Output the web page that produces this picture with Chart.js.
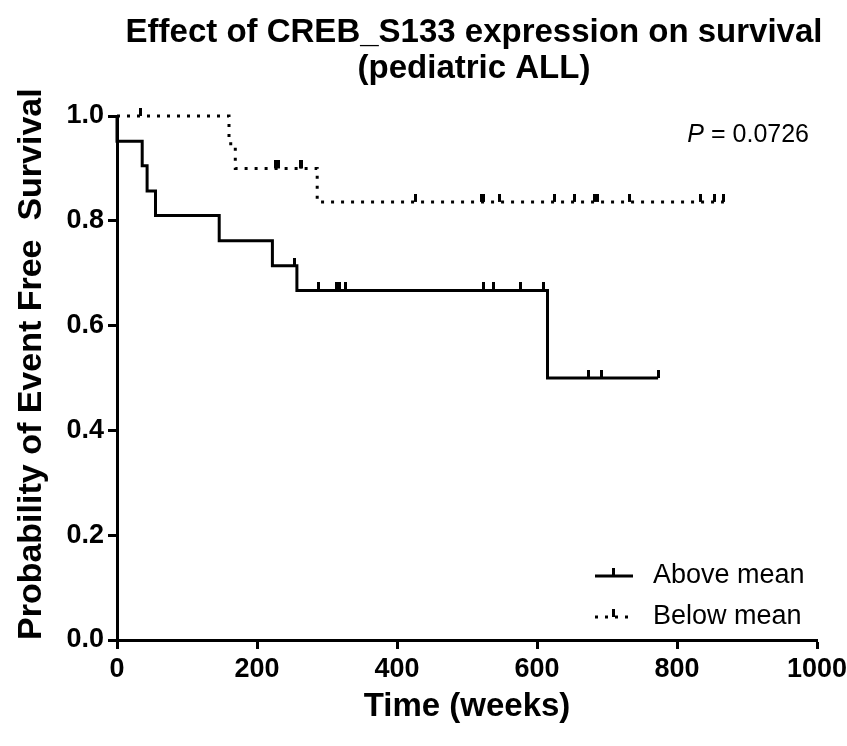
<!DOCTYPE html>
<html>
<head>
<meta charset="utf-8">
<script src="https://cdn.jsdelivr.net/npm/chart.js@4.4.1/dist/chart.umd.min.js"></script>
<style>
  html, body { margin: 0; padding: 0; background: #fff; }
  canvas { display: block; }
</style>
</head>
<body>
<canvas id="Chart" width="847" height="746"></canvas>
<script>
// Kaplan-Meier steps (weeks, survival)
var aboveTimes = [0, 0, 36, 43, 55, 146, 222, 257, 615, 773];
var aboveSurv  = [1.0, 0.952, 0.905, 0.857, 0.810, 0.762, 0.714, 0.667, 0.500, 0.500];
var aboveCensored = [254, 288, 314, 318, 327, 523, 538, 577, 609, 674, 692, 773];

var belowTimes = [0, 160, 169, 286, 867];
var belowSurv  = [1.0, 0.947, 0.900, 0.836, 0.836];
var belowCensored = [34, 227, 231, 262, 264, 427, 520, 524, 546, 625, 653, 682, 686, 732, 834, 854, 867];

var xTicks = [0, 200, 400, 600, 800, 1000];
var yTicks = [0.0, 0.2, 0.4, 0.6, 0.8, 1.0];

var titleLines = ['Effect of CREB_S133 expression on survival', '(pediatric ALL)'];

var fontFam = "'Liberation Sans', Arial, sans-serif";

function steps(times, surv) {
  var pts = [];
  for (var i = 0; i < times.length; i++) {
    pts.push({ x: times[i], y: surv[i] });
  }
  return pts;
}

// survival value at time t (last step at or before t)
function survAt(times, surv, t) {
  var v = surv[0];
  for (var i = 0; i < times.length; i++) {
    if (times[i] <= t) v = surv[i];
  }
  return v;
}

function censorPoints(list, times, surv) {
  return list.map(function (t) { return { x: t, y: survAt(times, surv, t) }; });
}

// small upward tick used for censored subjects
function makeTick(w) {
  var c = document.createElement('canvas');
  c.width = w;
  c.height = 16;
  var g = c.getContext('2d');
  g.fillStyle = '#000';
  g.fillRect(0, 0, w, 8);
  return c;
}
var tickSolid = makeTick(3);
var tickDotted = makeTick(3);

var extraText = {
  id: 'extraText',
  afterDraw: function (chart) {
    var ctx = chart.ctx;
    var a = chart.chartArea;
    ctx.save();
    ctx.fillStyle = '#000';
    ctx.strokeStyle = '#000';

    // title, centred a bit right of the canvas middle like the original
    ctx.font = 'bold 33px ' + fontFam;
    ctx.textAlign = 'center';
    ctx.textBaseline = 'middle';
    ctx.fillText(titleLines[0], 474, 33);
    ctx.fillText(titleLines[1], 474, 69);

    // P value
    ctx.textBaseline = 'alphabetic';
    ctx.textAlign = 'left';
    ctx.font = '25px ' + fontFam;
    var rest = ' = 0.0726';
    var restW = ctx.measureText(rest).width;
    ctx.fillText(rest, a.right - 8 - restW, a.top + 26);
    ctx.font = 'italic 25px ' + fontFam;
    var pW = ctx.measureText('P').width;
    ctx.fillText('P', a.right - 8 - restW - pW, a.top + 26);

    // legend
    var rows = [
      { label: 'Above mean', y: a.bottom - 64, dash: [] },
      { label: 'Below mean', y: a.bottom - 23, dash: [3, 7] }
    ];
    rows.forEach(function (r) {
      ctx.lineWidth = 3;
      ctx.setLineDash(r.dash);
      ctx.lineCap = 'butt';
      ctx.beginPath();
      ctx.moveTo(a.left + 478, r.y);
      ctx.lineTo(a.left + 516, r.y);
      ctx.stroke();
      ctx.setLineDash([]);
      ctx.fillRect(a.left + 495, r.y - 8, 3, 8);
      ctx.font = '27px ' + fontFam;
      ctx.textBaseline = 'middle';
      ctx.fillText(r.label, a.left + 536, r.y);
    });
    ctx.restore();
  }
};

var ctx = document.getElementById('Chart');
var chart = new Chart(ctx, {
  type: 'scatter',
  data: {
    datasets: [{
      label: 'Above mean',
      data: steps(aboveTimes, aboveSurv),
      showLine: true,
      stepped: true,
      borderColor: '#000',
      borderWidth: 3,
      pointRadius: 0,
      clip: false
    }, {
      label: 'Below mean',
      data: steps(belowTimes, belowSurv),
      showLine: true,
      stepped: true,
      borderColor: '#000',
      borderWidth: 3,
      borderDash: [3, 7],
      borderCapStyle: 'butt',
      pointRadius: 0,
      clip: false
    }, {
      label: 'Above censored',
      data: censorPoints(aboveCensored, aboveTimes, aboveSurv),
      pointStyle: tickSolid,
      clip: false
    }, {
      label: 'Below censored',
      data: censorPoints(belowCensored, belowTimes, belowSurv),
      pointStyle: tickDotted,
      clip: false
    }]
  },
  options: {
    responsive: false,
    animation: false,
    devicePixelRatio: 1,
    layout: { padding: { left: 0, right: 30, top: 116, bottom: 0 } },
    plugins: {
      legend: { display: false },
      tooltip: { enabled: false },
      title: { display: false }
    },
    scales: {
      x: {
        type: 'linear',
        min: 0,
        max: 1000,
        afterBuildTicks: function (s) { s.ticks = xTicks.map(function (v) { return { value: v }; }); },
        afterFit: function (s) { s.height = 106; s.paddingLeft = 0; s.paddingRight = 0; },
        ticks: {
          color: '#000',
          padding: 4,
          font: { family: fontFam, size: 27, weight: 'bold' },
          callback: function (v) { return String(v); }
        },
        border: { display: true, color: '#000', width: 3 },
        grid: { drawOnChartArea: false, drawTicks: true, tickLength: 9, tickWidth: 3, tickColor: '#000' },
        title: {
          display: true,
          text: 'Time (weeks)',
          color: '#000',
          font: { family: fontFam, size: 33, weight: 'bold', lineHeight: 1.2 },
          padding: { top: 0, bottom: 19 }
        }
      },
      y: {
        min: 0,
        max: 1,
        afterBuildTicks: function (s) { s.ticks = yTicks.map(function (v) { return { value: v }; }); },
        afterFit: function (s) { s.width = 117; },
        ticks: {
          color: '#000',
          padding: 4,
          font: { family: fontFam, size: 27, weight: 'bold' },
          callback: function (v) { return Number(v).toFixed(1); }
        },
        border: { display: true, color: '#000', width: 3 },
        grid: { drawOnChartArea: false, drawTicks: true, tickLength: 9, tickWidth: 3, tickColor: '#000' },
        title: {
          display: true,
          text: 'Probability of Event Free  Survival',
          align: 'start',
          color: '#000',
          font: { family: fontFam, size: 34, weight: 'bold', lineHeight: 1.2 },
          padding: { top: 11, bottom: 0 }
        }
      }
    }
  },
  plugins: [extraText]
});
</script>
</body>
</html>
